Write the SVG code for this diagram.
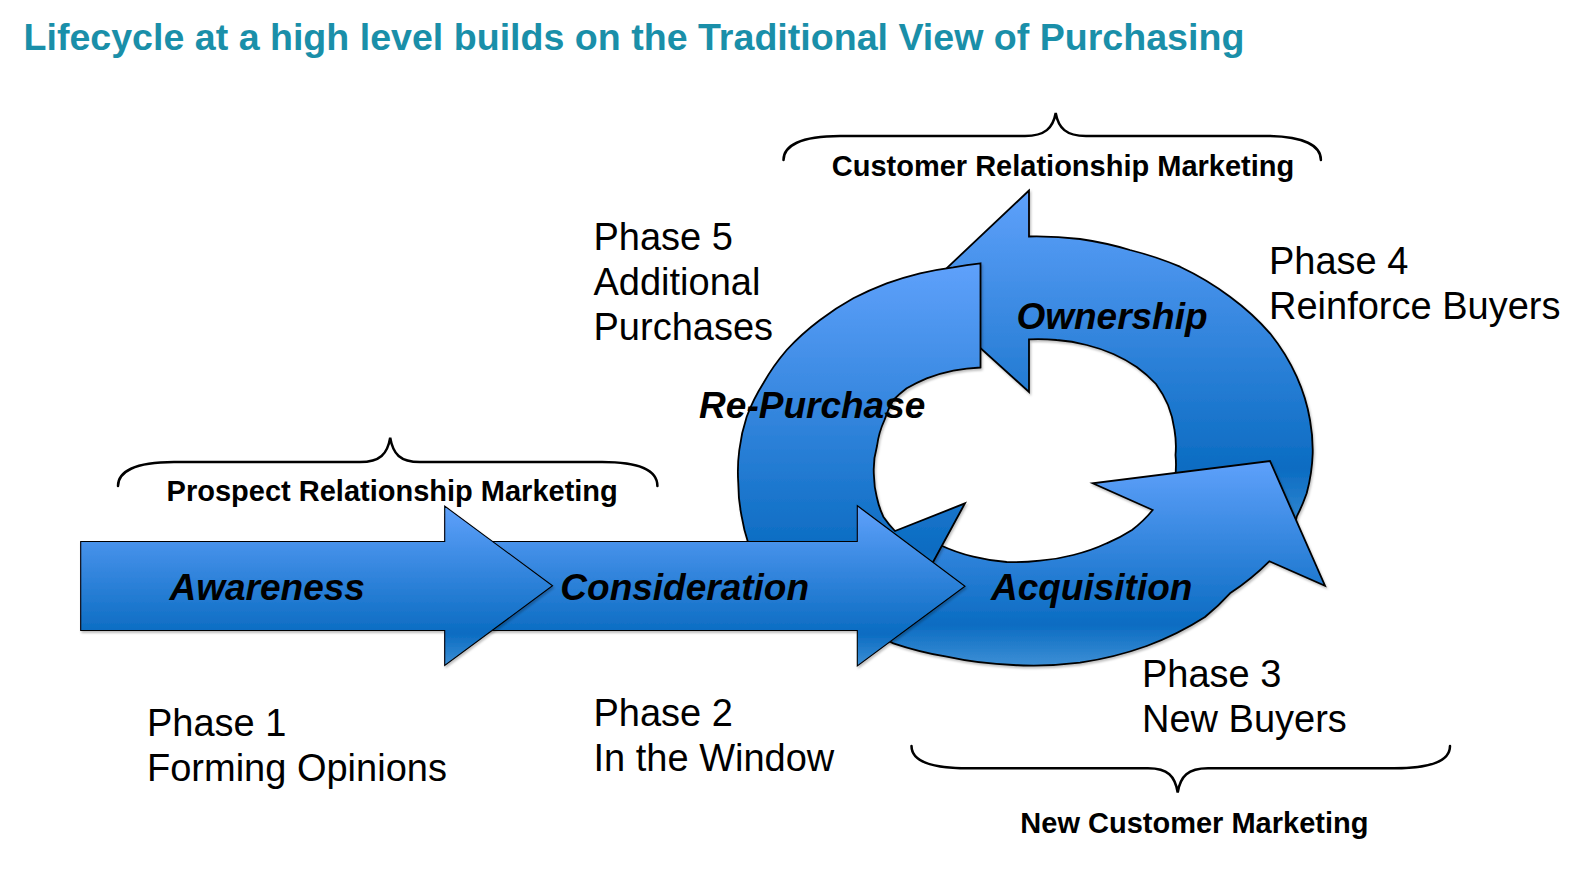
<svg xmlns="http://www.w3.org/2000/svg" width="1581" height="876" viewBox="0 0 1581 876">
<defs>
<linearGradient id="blueGrad" x1="0" y1="0" x2="0" y2="1">
<stop offset="0" stop-color="#5FA1FB"/>
<stop offset="0.8" stop-color="#0B6CC2"/>
<stop offset="1" stop-color="#3D8FD5"/>
</linearGradient>
<filter id="shadow" x="-5%" y="-5%" width="110%" height="115%">
<feDropShadow dx="1.2" dy="2" stdDeviation="1" flood-color="#000" flood-opacity="0.25"/>
</filter>
</defs>
<style>
.ring{fill:url(#blueGrad);stroke:#000;stroke-width:1.8;stroke-linejoin:miter;filter:url(#shadow)}
.straight{fill:url(#blueGrad);stroke:#000;stroke-width:1.1;filter:url(#shadow)}
.lbl{font-family:"Liberation Sans",Arial,sans-serif;font-weight:bold;font-style:italic;font-size:37px;fill:#000;text-anchor:middle}
.phase{font-family:"Liberation Sans",Arial,sans-serif;font-size:38px;fill:#000}
.brace{fill:none;stroke:#000;stroke-width:2.5;stroke-linecap:round}
.btxt{font-family:"Liberation Sans",Arial,sans-serif;font-weight:bold;font-size:29px;fill:#000;text-anchor:middle}
.title{font-family:"Liberation Sans",Arial,sans-serif;font-weight:bold;font-size:37.6px;fill:#1A8FA9}
</style>
<rect width="1581" height="876" fill="#fff"/>
<text class="title" x="23.5" y="50">Lifecycle at a high level builds on the Traditional View of Purchasing</text>

<g id="ownership">
<path class="ring" d="M1029,190.5 L920,293.4 L1029,392 L1029,339.3 A146 118 0 0 1 1056.7,340 A146 118 0 0 1 1086.7,345 A146 118 0 0 1 1113.3,354 A146 118 0 0 1 1136.7,367 A146 118 0 0 1 1156,384 A146 118 0 0 1 1168,405 A146 118 0 0 1 1174.5,430 A146 118 0 0 1 1175.5,455 A146 118 0 0 1 1172,492 L1291,538 A285 220 0 0 0 1296.7,516.7 A285 220 0 0 0 1306.7,493.3 A285 220 0 0 0 1312.7,453.3 A285 220 0 0 0 1310,420 A285 220 0 0 0 1296.7,376.7 A285 220 0 0 0 1270,333.3 A285 220 0 0 0 1230,296.7 A285 220 0 0 0 1180,266.7 A285 220 0 0 0 1130,250 A285 220 0 0 0 1080,239 A285 220 0 0 0 1029,236.5 Z"/>
</g>
<g id="acquisition">
<path class="ring" d="M925,538 L940,545 A150 112 0 0 0 973.3,556.7 A150 112 0 0 0 1006.7,562 A150 112 0 0 0 1040,560.7 A150 112 0 0 0 1073.3,555 A150 112 0 0 0 1106.7,543.3 A150 112 0 0 0 1132,530 A150 112 0 0 0 1152.7,510 L1092.7,483.3 L1270,461 L1325,585.7 L1269.3,561.3 A285 215 0 0 1 1230,593.3 A285 215 0 0 1 1205,617 A285 215 0 0 1 1146.7,646 A285 215 0 0 1 1080,662.7 A285 215 0 0 1 1013.3,665 A285 215 0 0 1 946.7,656.7 A285 215 0 0 1 893.3,643.3 L865,628 Z"/>
</g>
<g id="repurchase">
<path class="ring" d="M980.5,263.3 L980.5,367.5 A150 113 0 0 0 953.3,370.7 A150 113 0 0 0 926.7,378.3 A150 113 0 0 0 906.7,388.3 A150 113 0 0 0 893.3,400 A150 113 0 0 0 884.5,420 A150 113 0 0 0 877,446 A150 113 0 0 0 874,476.7 A150 113 0 0 0 876.7,496.7 A150 113 0 0 0 883.3,516.7 A150 113 0 0 0 895,531 L965,503.3 L915.2,595 L800,622 L757,575 A280 214 0 0 1 748.3,543.3 A280 214 0 0 1 741.7,516.7 A280 214 0 0 1 738.3,483.3 A280 214 0 0 1 739.3,450 A280 214 0 0 1 746.7,416.7 A280 214 0 0 1 763.3,383.3 A280 214 0 0 1 786.7,350 A280 214 0 0 1 820,320 A280 214 0 0 1 853.3,298.3 A280 214 0 0 1 886.7,283.3 A280 214 0 0 1 920,273.3 A280 214 0 0 1 953.3,267.3 A280 214 0 0 1 980.5,263.3 Z"/>
</g>
<g id="consideration">
<path class="straight" d="M470,541.5 L857.3,541.5 L857.3,505.7 L965,586.2 L857.3,666 L857.3,630.5 L470,630.5 Z"/>
</g>
<g id="awareness">
<path class="straight" d="M80.7,541.5 L444.7,541.5 L444.7,506 L552.5,585.8 L444.7,665.5 L444.7,630.5 L80.7,630.5 Z"/>
</g>

<g id="labels">
<text class="lbl" x="267.2" y="600">Awareness</text>
<text class="lbl" x="684.7" y="600">Consideration</text>
<text class="lbl" x="1091.7" y="600">Acquisition</text>
<text class="lbl" x="1112" y="328.5">Ownership</text>
<text class="lbl" x="812.2" y="418">Re-Purchase</text>
</g>

<g id="phase1"><text class="phase" x="147" y="736">Phase 1</text><text class="phase" x="147" y="781">Forming Opinions</text></g>
<g id="phase2"><text class="phase" x="593.5" y="726">Phase 2</text><text class="phase" x="593.5" y="771">In the Window</text></g>
<g id="phase3"><text class="phase" x="1142" y="686.5">Phase 3</text><text class="phase" x="1142" y="731.5">New Buyers</text></g>
<g id="phase4"><text class="phase" x="1269" y="273.5">Phase 4</text><text class="phase" x="1269" y="318.5">Reinforce Buyers</text></g>
<g id="phase5"><text class="phase" x="593.5" y="250">Phase 5</text><text class="phase" x="593.5" y="295">Additional</text><text class="phase" x="593.5" y="340">Purchases</text></g>

<g id="connectors">
<g id="brace-prospect">
<path class="brace" d="M118,486 C118,472 134,462 174,462 L360,462 C380,462 387.5,454 390.2,437.6 C393,454 400,462 420,462 L602,462 C642,462 657.4,472 657.4,486"/>
<text class="btxt" x="392.2" y="501">Prospect Relationship Marketing</text>
</g>
<g id="brace-customer">
<path class="brace" d="M783.5,160 C783.5,146 800,136 840,136 L1025,136 C1045,136 1053,128 1055.7,113 C1058.4,128 1066,136 1086,136 L1265,136 C1305,136 1320.9,146 1320.9,160"/>
<text class="btxt" x="1063" y="175.5">Customer Relationship Marketing</text>
</g>
<g id="brace-new">
<path class="brace" d="M911.5,746 C911.5,760 928,768.3 968,768.3 L1148,768.3 C1168,768.3 1175,776 1177.7,792.5 C1180.4,776 1188,768.3 1208,768.3 L1394,768.3 C1434,768.3 1450,760 1450,746"/>
<text class="btxt" x="1194.4" y="833">New Customer Marketing</text>
</g>
</g>
</svg>
